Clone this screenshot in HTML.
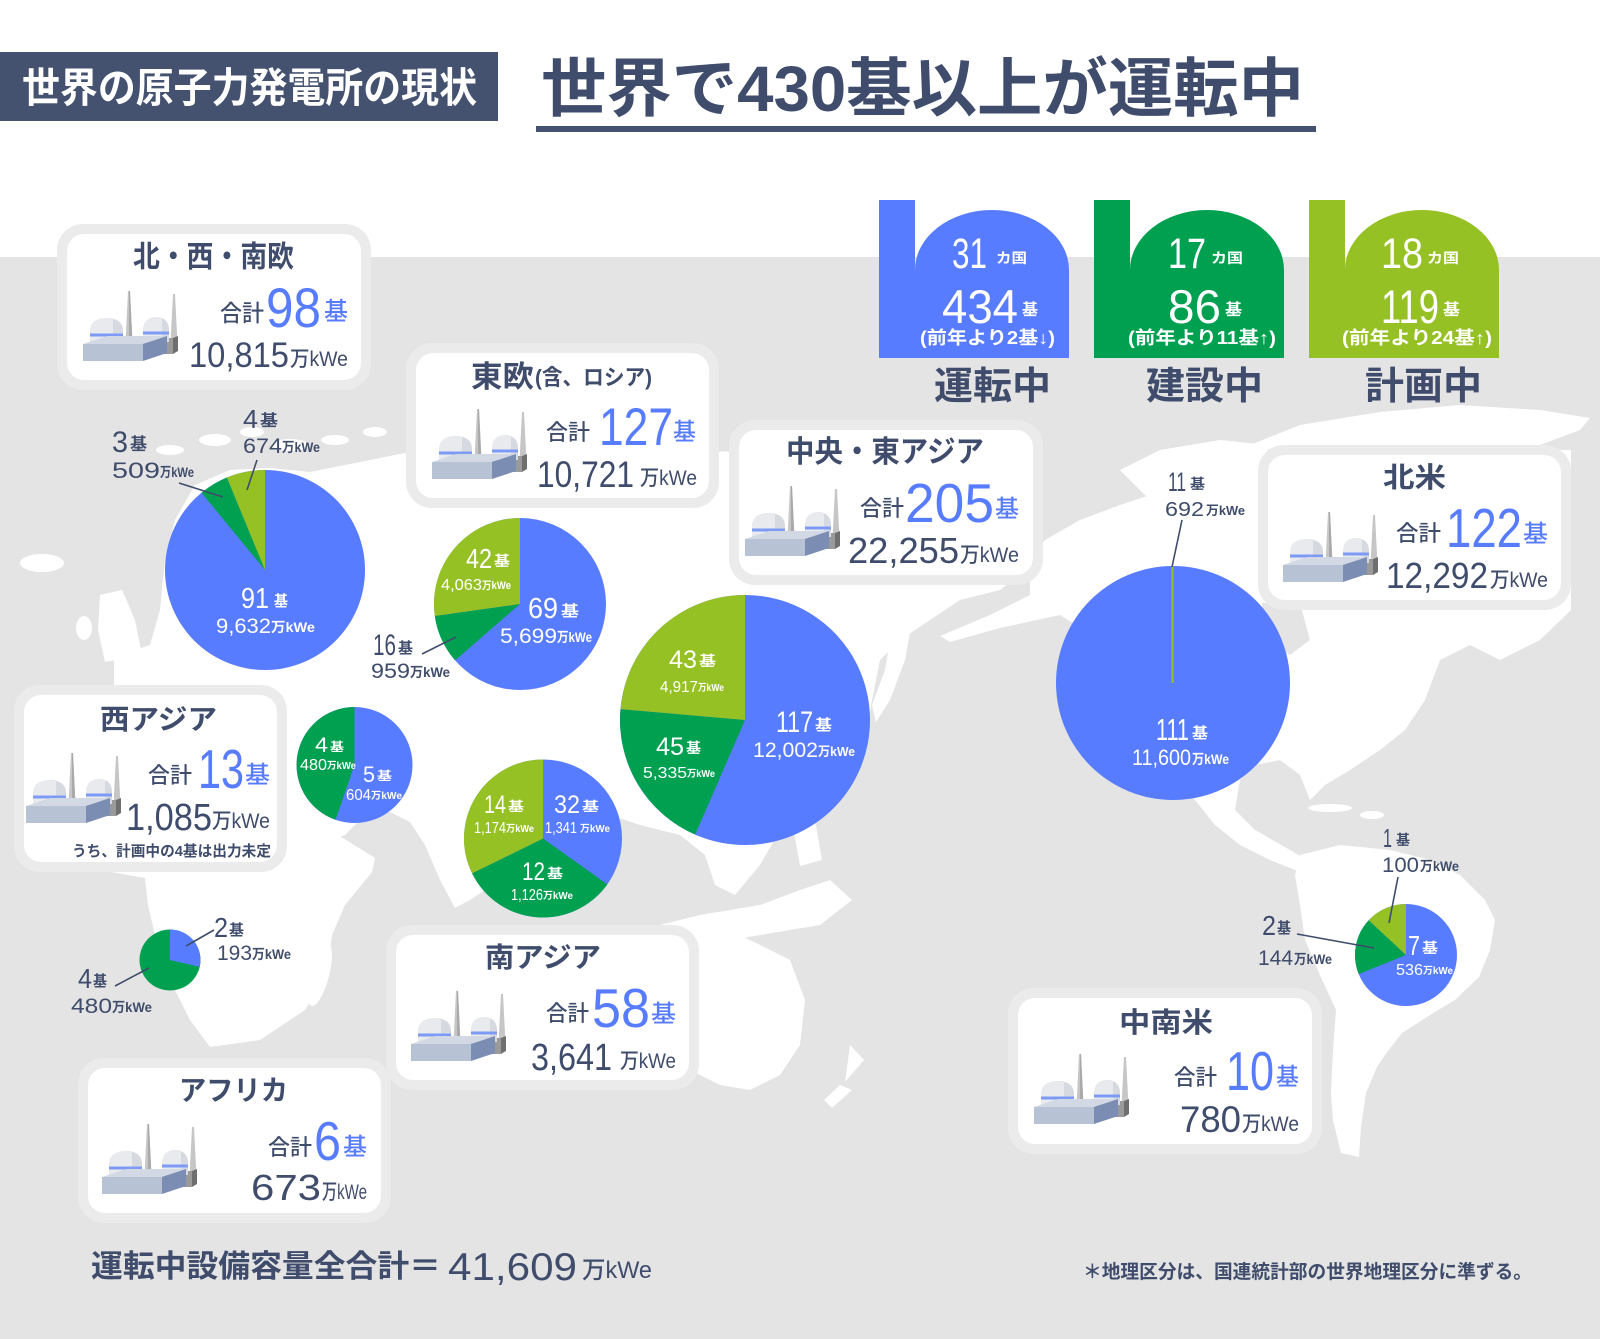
<!DOCTYPE html>
<html><head><meta charset="utf-8"><style>
html,body{margin:0;padding:0;background:#fff;}
svg{display:block;}
text{font-family:"Liberation Sans","Noto Sans CJK JP",sans-serif;}
.n{fill:#3f4c6b;font-weight:500;}
.nb{fill:#3f4c6b;font-weight:700;}
.b{fill:#587cff;font-weight:500;}
.w{fill:#fff;font-weight:500;}
.wb{fill:#fff;font-weight:700;}
</style></head><body>
<svg width="1600" height="1339" viewBox="0 0 1600 1339" xmlns="http://www.w3.org/2000/svg">
<defs>
<g id="icon">
  <polygon points="45,0 47,0 49.5,52 42.5,52" fill="#c6c6c6"/>
  <polygon points="46,0 47,0 49.5,52 46,52" fill="#a9a9a9"/>
  <polygon points="90,3 92,3 94.5,52 87.5,52" fill="#c6c6c6"/>
  <rect x="54" y="47" width="36" height="16" fill="#9a9a9a"/>
  <polygon points="90,47 95,45 95,60 90,63" fill="#6f6f6f"/>
  <path d="M7,53 L7,40 C7,31 14,27 23.5,27 C33,27 40,31 40,40 L40,53 Z" fill="#e8eaee"/>
  <path d="M23.5,27 C33,27 40,31 40,40 L40,53 L30,53 L30,28 Z" fill="#d6d9df"/>
  <rect x="7" y="42.5" width="33" height="3" fill="#7d9af5"/>
  <path d="M60,51 L60,39 C60,30 66,26 73,26 C80,26 86,30 86,39 L86,51 Z" fill="#e8eaee"/>
  <path d="M73,26 C80,26 86,30 86,39 L86,51 L79,51 L79,27 Z" fill="#d6d9df"/>
  <rect x="60" y="40.5" width="26" height="3" fill="#7d9af5"/>
  <polygon points="0,53 60,53 84,45 24,45" fill="#d3d9e4"/>
  <rect x="0" y="53" width="60" height="17" fill="#b7c3d5"/>
  <polygon points="60,53 84,45 84,62 60,70" fill="#7b8db3"/>
</g>
</defs>

<!-- header -->
<rect x="0" y="52" width="498" height="69" fill="#44526f"/>
<text x="22" y="102" font-size="41" textLength="455" lengthAdjust="spacingAndGlyphs" class="wb">世界の原子力発電所の現状</text>
<text x="541" y="111" font-size="64" textLength="763" lengthAdjust="spacingAndGlyphs" class="nb">世界で430基以上が運転中</text>
<rect x="536" y="126" width="780" height="6" fill="#44526f"/>

<!-- map background -->
<rect x="0" y="257" width="1600" height="1082" fill="#e4e4e4"/>

<!-- land -->
<g fill="#ffffff">
  <polygon points="114,690 114,657 150,645 160,610 165,560 175,520 195,485 230,470 270,468 310,472 360,462 410,452 500,447 600,450 700,452 800,450 900,450 980,452 1030,457 1040,520 1040,560 1000,590 960,600 930,620 900,640 880,660 872,700 862,760 830,790 800,800 780,830 760,865 735,895 715,885 705,855 680,835 640,825 610,815 580,830 540,860 500,880 470,900 455,908 440,880 425,845 410,822 390,812 365,815 345,835 325,842 305,828 290,800 280,760 275,720 265,700 200,700 160,695"/>
  <polygon points="160,700 265,700 290,730 310,790 330,830 375,858 372,872 345,905 332,935 327,975 305,1010 260,1040 210,1047 190,1020 175,990 165,960 155,935 148,905 145,878 100,870 40,860 25,800 40,740 90,705"/>
  <ellipse cx="320" cy="975" rx="9" ry="32" transform="rotate(15 320 975)"/>
  <ellipse cx="42" cy="563" rx="22" ry="9"/>
  <polygon points="100,595 122,590 135,620 142,655 105,662 98,630"/>
  <ellipse cx="84" cy="628" rx="8" ry="12"/>
  <ellipse cx="170" cy="450" rx="14" ry="5"/>
  <ellipse cx="215" cy="440" rx="16" ry="6"/>
  <ellipse cx="252" cy="432" rx="12" ry="5"/>
  <ellipse cx="290" cy="445" rx="18" ry="6"/>
  <ellipse cx="335" cy="440" rx="14" ry="5"/>
  <ellipse cx="375" cy="432" rx="12" ry="5"/>
  <polygon points="895,610 912,622 905,660 890,700 876,722 872,705 885,670"/>
  <polygon points="640,930 700,915 760,905 800,890 830,880 852,900 820,925 760,935 700,945 650,945"/>
  <polygon points="790,810 815,820 822,860 800,866"/>
  <polygon points="600,980 650,955 700,935 730,930 760,945 790,960 805,1000 800,1045 780,1075 750,1090 720,1085 690,1070 650,1075 610,1070 600,1040"/>
  <polygon points="850,1045 864,1060 845,1082"/>
  <polygon points="840,1085 852,1090 832,1108 824,1100"/>
  <!-- North America -->
  <polygon points="1045,540 1080,520 1120,505 1150,495 1180,470 1220,455 1268,450 1571,450 1571,610 1540,640 1500,660 1470,645 1440,660 1425,700 1405,730 1380,750 1350,770 1325,785 1310,800 1300,775 1280,760 1255,765 1240,780 1235,810 1255,830 1290,850 1310,862 1300,872 1270,860 1240,845 1215,825 1195,800 1180,780 1150,770 1120,700 1100,640 1060,615 1000,628 950,642 940,636 990,615 1030,595 1030,560"/>
  <polygon points="1250,445 1300,425 1380,412 1460,405 1540,410 1590,418 1580,430 1540,445 1500,455 1470,470 1440,460 1400,455 1300,455"/>
  <polygon points="1120,470 1160,450 1220,440 1268,445 1268,470 1200,490 1150,500"/>
  <polygon points="1300,855 1340,845 1390,850 1430,860 1460,875 1485,900 1495,920 1490,950 1479,977 1455,1000 1438,1010 1402,1033 1385,1055 1377,1067 1366,1093 1361,1127 1359,1157 1341,1153 1333,1120 1331,1093 1333,1050 1336,1010 1320,975 1305,940 1300,905 1295,875"/>
  <ellipse cx="1330" cy="808" rx="22" ry="4"/>
  <ellipse cx="1372" cy="815" rx="12" ry="4"/>
</g>
<polygon points="1262,603 1300,603 1310,640 1290,655 1265,640" fill="#e4e4e4"/>

<!-- stats shapes -->
<rect x="879" y="200" width="36" height="158" fill="#587cff"/>
<path d="M915,358 V270 A77,60 0 0 1 1069,270 V358 Z" fill="#587cff"/>
<rect x="1094" y="200" width="36" height="158" fill="#00a051"/>
<path d="M1130,358 V270 A77,60 0 0 1 1284,270 V358 Z" fill="#00a051"/>
<rect x="1309" y="200" width="36" height="158" fill="#96c125"/>
<path d="M1345,358 V270 A77,60 0 0 1 1499,270 V358 Z" fill="#96c125"/>

<text x="952" y="268" font-size="43" textLength="35" lengthAdjust="spacingAndGlyphs" class="w">31</text>
<text x="996" y="263" font-size="14" textLength="31" lengthAdjust="spacingAndGlyphs" class="wb">カ国</text>
<text x="942" y="323" font-size="47" textLength="76" lengthAdjust="spacingAndGlyphs" class="w">434</text>
<text x="1022" y="315" font-size="16" textLength="16" lengthAdjust="spacingAndGlyphs" class="wb">基</text>
<text x="920" y="344" font-size="18" textLength="135" lengthAdjust="spacingAndGlyphs" class="wb">(前年より2基↓)</text>

<text x="1168" y="268" font-size="43" textLength="38" lengthAdjust="spacingAndGlyphs" class="w">17</text>
<text x="1211" y="263" font-size="14" textLength="32" lengthAdjust="spacingAndGlyphs" class="wb">カ国</text>
<text x="1168" y="323" font-size="47" textLength="53" lengthAdjust="spacingAndGlyphs" class="w">86</text>
<text x="1225" y="315" font-size="16" textLength="17" lengthAdjust="spacingAndGlyphs" class="wb">基</text>
<text x="1128" y="344" font-size="18" textLength="148" lengthAdjust="spacingAndGlyphs" class="wb">(前年より11基↑)</text>

<text x="1381" y="268" font-size="43" textLength="42" lengthAdjust="spacingAndGlyphs" class="w">18</text>
<text x="1427" y="263" font-size="14" textLength="32" lengthAdjust="spacingAndGlyphs" class="wb">カ国</text>
<text x="1381" y="323" font-size="47" textLength="58" lengthAdjust="spacingAndGlyphs" class="w">119</text>
<text x="1443" y="315" font-size="16" textLength="17" lengthAdjust="spacingAndGlyphs" class="wb">基</text>
<text x="1342" y="344" font-size="18" textLength="150" lengthAdjust="spacingAndGlyphs" class="wb">(前年より24基↑)</text>

<text x="934" y="399" font-size="38" textLength="117" lengthAdjust="spacingAndGlyphs" class="nb">運転中</text>
<text x="1146" y="399" font-size="38" textLength="117" lengthAdjust="spacingAndGlyphs" class="nb">建設中</text>
<text x="1365" y="399" font-size="38" textLength="117" lengthAdjust="spacingAndGlyphs" class="nb">計画中</text>

<!-- boxes: halos + white -->
<g fill="#ebebeb">
  <rect x="57" y="224" width="314" height="166" rx="26"/>
  <rect x="406" y="343" width="313" height="165" rx="26"/>
  <rect x="729" y="420" width="314" height="165" rx="26"/>
  <rect x="1258" y="445" width="313" height="165" rx="26"/>
  <rect x="14" y="685" width="273" height="187" rx="26"/>
  <rect x="386" y="925" width="313" height="165" rx="26"/>
  <rect x="78" y="1058" width="313" height="165" rx="26"/>
  <rect x="1008" y="988" width="314" height="166" rx="26"/>
</g>
<g fill="#ffffff">
  <rect x="67" y="234" width="294" height="146" rx="17"/>
  <rect x="416" y="353" width="293" height="145" rx="17"/>
  <rect x="739" y="430" width="294" height="145" rx="17"/>
  <rect x="1268" y="455" width="293" height="145" rx="17"/>
  <rect x="24" y="695" width="253" height="167" rx="17"/>
  <rect x="396" y="935" width="293" height="145" rx="17"/>
  <rect x="88" y="1068" width="293" height="145" rx="17"/>
  <rect x="1018" y="998" width="294" height="146" rx="17"/>
</g>

<!-- icons -->
<use href="#icon" x="83" y="291"/>
<use href="#icon" x="432" y="409"/>
<use href="#icon" x="745" y="486"/>
<use href="#icon" x="1283" y="512"/>
<use href="#icon" x="26" y="753"/>
<use href="#icon" x="411" y="991"/>
<use href="#icon" x="102" y="1124"/>
<use href="#icon" x="1034" y="1054"/>

<!-- Box 1 -->
<text x="133" y="267" font-size="30" textLength="161" lengthAdjust="spacingAndGlyphs" class="nb">北・西・南欧</text>
<text x="220" y="321" font-size="23" textLength="44" lengthAdjust="spacingAndGlyphs" class="n">合計</text>
<text x="266" y="327" font-size="56" textLength="55" lengthAdjust="spacingAndGlyphs" class="b">98</text>
<text x="324" y="320" font-size="25" textLength="24" lengthAdjust="spacingAndGlyphs" class="b">基</text>
<text x="189" y="367" font-size="35" textLength="100" lengthAdjust="spacingAndGlyphs" class="n">10,815</text>
<text x="290" y="366" font-size="21" textLength="58" lengthAdjust="spacingAndGlyphs" class="n">万kWe</text>

<!-- Box 2 -->
<text x="471" y="387" font-size="30" textLength="63" lengthAdjust="spacingAndGlyphs" class="nb">東欧</text>
<text x="535" y="385" font-size="22" textLength="117" lengthAdjust="spacingAndGlyphs" class="nb">(含、ロシア)</text>
<text x="546" y="440" font-size="22" textLength="44" lengthAdjust="spacingAndGlyphs" class="n">合計</text>
<text x="599" y="445" font-size="53" textLength="74" lengthAdjust="spacingAndGlyphs" class="b">127</text>
<text x="673" y="440" font-size="24" textLength="23" lengthAdjust="spacingAndGlyphs" class="b">基</text>
<text x="537" y="487" font-size="37" textLength="97" lengthAdjust="spacingAndGlyphs" class="n">10,721</text>
<text x="640" y="485" font-size="21" textLength="57" lengthAdjust="spacingAndGlyphs" class="n">万kWe</text>

<!-- Box 3 -->
<text x="786" y="462" font-size="30" textLength="198" lengthAdjust="spacingAndGlyphs" class="nb">中央・東アジア</text>
<text x="860" y="516" font-size="22" textLength="44" lengthAdjust="spacingAndGlyphs" class="n">合計</text>
<text x="905" y="522" font-size="55" textLength="89" lengthAdjust="spacingAndGlyphs" class="b">205</text>
<text x="995" y="517" font-size="24" textLength="24" lengthAdjust="spacingAndGlyphs" class="b">基</text>
<text x="848" y="563" font-size="36" textLength="111" lengthAdjust="spacingAndGlyphs" class="n">22,255</text>
<text x="960" y="562" font-size="21" textLength="59" lengthAdjust="spacingAndGlyphs" class="n">万kWe</text>

<!-- Box 4 -->
<text x="1383" y="487" font-size="28" textLength="63" lengthAdjust="spacingAndGlyphs" class="nb">北米</text>
<text x="1396" y="541" font-size="22" textLength="45" lengthAdjust="spacingAndGlyphs" class="n">合計</text>
<text x="1446" y="547" font-size="55" textLength="76" lengthAdjust="spacingAndGlyphs" class="b">122</text>
<text x="1523" y="542" font-size="24" textLength="25" lengthAdjust="spacingAndGlyphs" class="b">基</text>
<text x="1386" y="588" font-size="36" textLength="102" lengthAdjust="spacingAndGlyphs" class="n">12,292</text>
<text x="1490" y="587" font-size="21" textLength="58" lengthAdjust="spacingAndGlyphs" class="n">万kWe</text>

<!-- Box 5 -->
<text x="100" y="729" font-size="28" textLength="117" lengthAdjust="spacingAndGlyphs" class="nb">西アジア</text>
<text x="148" y="783" font-size="22" textLength="44" lengthAdjust="spacingAndGlyphs" class="n">合計</text>
<text x="198" y="788" font-size="55" textLength="46" lengthAdjust="spacingAndGlyphs" class="b">13</text>
<text x="245" y="783" font-size="24" textLength="25" lengthAdjust="spacingAndGlyphs" class="b">基</text>
<text x="126" y="830" font-size="38" textLength="86" lengthAdjust="spacingAndGlyphs" class="n">1,085</text>
<text x="212" y="828" font-size="21" textLength="58" lengthAdjust="spacingAndGlyphs" class="n">万kWe</text>
<text x="72" y="856" font-size="15" textLength="199" lengthAdjust="spacingAndGlyphs" class="nb">うち、計画中の4基は出力未定</text>

<!-- Box 6 -->
<text x="485" y="967" font-size="28" textLength="116" lengthAdjust="spacingAndGlyphs" class="nb">南アジア</text>
<text x="546" y="1021" font-size="22" textLength="43" lengthAdjust="spacingAndGlyphs" class="n">合計</text>
<text x="592" y="1027" font-size="55" textLength="58" lengthAdjust="spacingAndGlyphs" class="b">58</text>
<text x="651" y="1022" font-size="24" textLength="25" lengthAdjust="spacingAndGlyphs" class="b">基</text>
<text x="531" y="1070" font-size="38" textLength="81" lengthAdjust="spacingAndGlyphs" class="n">3,641</text>
<text x="620" y="1068" font-size="21" textLength="56" lengthAdjust="spacingAndGlyphs" class="n">万kWe</text>

<!-- Box 7 -->
<text x="179" y="1100" font-size="28" textLength="109" lengthAdjust="spacingAndGlyphs" class="nb">アフリカ</text>
<text x="268" y="1155" font-size="22" textLength="44" lengthAdjust="spacingAndGlyphs" class="n">合計</text>
<text x="314" y="1160" font-size="55" textLength="27" lengthAdjust="spacingAndGlyphs" class="b">6</text>
<text x="343" y="1155" font-size="24" textLength="24" lengthAdjust="spacingAndGlyphs" class="b">基</text>
<text x="251" y="1200" font-size="36" textLength="70" lengthAdjust="spacingAndGlyphs" class="n">673</text>
<text x="322" y="1199" font-size="21" textLength="45" lengthAdjust="spacingAndGlyphs" class="n">万kWe</text>

<!-- Box 8 -->
<text x="1119" y="1032" font-size="28" textLength="94" lengthAdjust="spacingAndGlyphs" class="nb">中南米</text>
<text x="1174" y="1085" font-size="22" textLength="43" lengthAdjust="spacingAndGlyphs" class="n">合計</text>
<text x="1226" y="1090" font-size="55" textLength="48" lengthAdjust="spacingAndGlyphs" class="b">10</text>
<text x="1276" y="1085" font-size="24" textLength="23" lengthAdjust="spacingAndGlyphs" class="b">基</text>
<text x="1180" y="1132" font-size="37" textLength="61" lengthAdjust="spacingAndGlyphs" class="n">780</text>
<text x="1242" y="1131" font-size="21" textLength="57" lengthAdjust="spacingAndGlyphs" class="n">万kWe</text>

<!-- Pies -->
<circle cx="265" cy="570" r="100" fill="#587cff"/>
<path d="M265,570 L201.5,492.7 A100,100 0 0 1 226.9,477.5 Z" fill="#00a051"/>
<path d="M265,570 L226.9,477.5 A100,100 0 0 1 265,470 Z" fill="#96c125"/>
<circle cx="520" cy="604" r="86" fill="#587cff"/>
<path d="M520,604 L455.1,660.4 A86,86 0 0 1 434.8,616 Z" fill="#00a051"/>
<path d="M520,604 L434.8,616 A86,86 0 0 1 520,518 Z" fill="#96c125"/>
<circle cx="745" cy="720" r="125" fill="#587cff"/>
<path d="M745,720 L695.2,834.6 A125,125 0 0 1 620.5,709.1 Z" fill="#00a051"/>
<path d="M745,720 L620.5,709.1 A125,125 0 0 1 745,595 Z" fill="#96c125"/>
<circle cx="354.5" cy="765" r="58" fill="#587cff"/>
<path d="M354.5,765 L335.6,819.8 A58,58 0 0 1 354.5,707 Z" fill="#00a051"/>
<circle cx="543" cy="838.5" r="79" fill="#587cff"/>
<path d="M543,838.5 L607.3,884.4 A79,79 0 0 1 472.1,873.4 Z" fill="#00a051"/>
<path d="M543,838.5 L472.1,873.4 A79,79 0 0 1 543,759.5 Z" fill="#96c125"/>
<circle cx="170" cy="960" r="30.5" fill="#00a051"/>
<path d="M170,960 L170,929.5 A30.5,30.5 0 0 1 199.7,966.9 Z" fill="#587cff"/>
<circle cx="1173" cy="683" r="117" fill="#587cff"/>
<line x1="1172.5" y1="683" x2="1172.5" y2="566" stroke="#96c125" stroke-width="2"/>
<circle cx="1406" cy="955" r="51" fill="#587cff"/>
<path d="M1406,955 L1358.7,974.1 A51,51 0 0 1 1368.7,920.2 Z" fill="#00a051"/>
<path d="M1406,955 L1368.7,920.2 A51,51 0 0 1 1406,904 Z" fill="#96c125"/>

<!-- leader lines -->
<g stroke="#3f4c6b" stroke-width="1.6">
  <line x1="179" y1="483" x2="223" y2="497"/>
  <line x1="257" y1="460" x2="247" y2="490"/>
  <line x1="422" y1="654" x2="456" y2="637"/>
  <line x1="186" y1="946" x2="214" y2="930"/>
  <line x1="115" y1="986" x2="149" y2="968"/>
  <line x1="1182" y1="520" x2="1172" y2="567"/>
  <line x1="1297" y1="934" x2="1374" y2="948"/>
  <line x1="1398" y1="877" x2="1389" y2="923"/>
</g>

<!-- pie labels: Europe -->
<text x="241" y="608" font-size="29" textLength="28" lengthAdjust="spacingAndGlyphs" class="w">91</text>
<text x="274" y="606" font-size="15" textLength="14" lengthAdjust="spacingAndGlyphs" class="wb">基</text>
<text x="216" y="633" font-size="21" textLength="55" lengthAdjust="spacingAndGlyphs" class="w">9,632</text>
<text x="271" y="632" font-size="14" textLength="44" lengthAdjust="spacingAndGlyphs" class="wb">万kWe</text>
<text x="112" y="452" font-size="30" textLength="16" lengthAdjust="spacingAndGlyphs" class="n">3</text>
<text x="130" y="450" font-size="17" textLength="17" lengthAdjust="spacingAndGlyphs" class="nb">基</text>
<text x="112" y="478" font-size="22" textLength="48" lengthAdjust="spacingAndGlyphs" class="n">509</text>
<text x="160" y="477" font-size="14" textLength="34" lengthAdjust="spacingAndGlyphs" class="nb">万kWe</text>
<text x="243" y="428" font-size="26" textLength="15" lengthAdjust="spacingAndGlyphs" class="n">4</text>
<text x="260" y="426" font-size="16" textLength="18" lengthAdjust="spacingAndGlyphs" class="nb">基</text>
<text x="243" y="453" font-size="21" textLength="39" lengthAdjust="spacingAndGlyphs" class="n">674</text>
<text x="282" y="452" font-size="14" textLength="38" lengthAdjust="spacingAndGlyphs" class="nb">万kWe</text>

<!-- East Europe -->
<text x="466" y="568" font-size="28" textLength="26" lengthAdjust="spacingAndGlyphs" class="w">42</text>
<text x="494" y="566" font-size="14" textLength="16" lengthAdjust="spacingAndGlyphs" class="wb">基</text>
<text x="441" y="590" font-size="16" textLength="41" lengthAdjust="spacingAndGlyphs" class="w">4,063</text>
<text x="482" y="589" font-size="11" textLength="29" lengthAdjust="spacingAndGlyphs" class="wb">万kWe</text>
<text x="528" y="618" font-size="29" textLength="30" lengthAdjust="spacingAndGlyphs" class="w">69</text>
<text x="561" y="616" font-size="15" textLength="18" lengthAdjust="spacingAndGlyphs" class="wb">基</text>
<text x="500" y="643" font-size="21" textLength="57" lengthAdjust="spacingAndGlyphs" class="w">5,699</text>
<text x="557" y="642" font-size="14" textLength="35" lengthAdjust="spacingAndGlyphs" class="wb">万kWe</text>
<text x="373" y="655" font-size="30" textLength="23" lengthAdjust="spacingAndGlyphs" class="n">16</text>
<text x="398" y="653" font-size="15" textLength="15" lengthAdjust="spacingAndGlyphs" class="nb">基</text>
<text x="371" y="678" font-size="21" textLength="39" lengthAdjust="spacingAndGlyphs" class="n">959</text>
<text x="410" y="677" font-size="14" textLength="40" lengthAdjust="spacingAndGlyphs" class="nb">万kWe</text>

<!-- Central/East Asia -->
<text x="669" y="668" font-size="25" textLength="28" lengthAdjust="spacingAndGlyphs" class="w">43</text>
<text x="699" y="666" font-size="14" textLength="17" lengthAdjust="spacingAndGlyphs" class="wb">基</text>
<text x="660" y="692" font-size="16" textLength="38" lengthAdjust="spacingAndGlyphs" class="w">4,917</text>
<text x="698" y="691" font-size="10" textLength="26" lengthAdjust="spacingAndGlyphs" class="wb">万kWe</text>
<text x="776" y="732" font-size="30" textLength="37" lengthAdjust="spacingAndGlyphs" class="w">117</text>
<text x="815" y="730" font-size="15" textLength="17" lengthAdjust="spacingAndGlyphs" class="wb">基</text>
<text x="753" y="757" font-size="21" textLength="65" lengthAdjust="spacingAndGlyphs" class="w">12,002</text>
<text x="818" y="756" font-size="13" textLength="37" lengthAdjust="spacingAndGlyphs" class="wb">万kWe</text>
<text x="656" y="755" font-size="25" textLength="28" lengthAdjust="spacingAndGlyphs" class="w">45</text>
<text x="686" y="753" font-size="14" textLength="15" lengthAdjust="spacingAndGlyphs" class="wb">基</text>
<text x="643" y="778" font-size="16" textLength="44" lengthAdjust="spacingAndGlyphs" class="w">5,335</text>
<text x="687" y="777" font-size="10" textLength="28" lengthAdjust="spacingAndGlyphs" class="wb">万kWe</text>

<!-- West Asia -->
<text x="315" y="752" font-size="21" textLength="13" lengthAdjust="spacingAndGlyphs" class="w">4</text>
<text x="330" y="751" font-size="12" textLength="14" lengthAdjust="spacingAndGlyphs" class="wb">基</text>
<text x="300" y="770" font-size="16" textLength="27" lengthAdjust="spacingAndGlyphs" class="w">480</text>
<text x="327" y="769" font-size="10" textLength="29" lengthAdjust="spacingAndGlyphs" class="wb">万kWe</text>
<text x="363" y="782" font-size="22" textLength="12" lengthAdjust="spacingAndGlyphs" class="w">5</text>
<text x="377" y="780" font-size="12" textLength="15" lengthAdjust="spacingAndGlyphs" class="wb">基</text>
<text x="346" y="800" font-size="16" textLength="25" lengthAdjust="spacingAndGlyphs" class="w">604</text>
<text x="371" y="799" font-size="10" textLength="31" lengthAdjust="spacingAndGlyphs" class="wb">万kWe</text>

<!-- South Asia -->
<text x="484" y="813" font-size="25" textLength="22" lengthAdjust="spacingAndGlyphs" class="w">14</text>
<text x="508" y="811" font-size="13" textLength="16" lengthAdjust="spacingAndGlyphs" class="wb">基</text>
<text x="474" y="833" font-size="16" textLength="32" lengthAdjust="spacingAndGlyphs" class="w">1,174</text>
<text x="506" y="832" font-size="10" textLength="28" lengthAdjust="spacingAndGlyphs" class="wb">万kWe</text>
<text x="554" y="813" font-size="25" textLength="26" lengthAdjust="spacingAndGlyphs" class="w">32</text>
<text x="582" y="811" font-size="13" textLength="17" lengthAdjust="spacingAndGlyphs" class="wb">基</text>
<text x="545" y="833" font-size="16" textLength="32" lengthAdjust="spacingAndGlyphs" class="w">1,341</text>
<text x="580" y="832" font-size="10" textLength="30" lengthAdjust="spacingAndGlyphs" class="wb">万kWe</text>
<text x="522" y="880" font-size="25" textLength="23" lengthAdjust="spacingAndGlyphs" class="w">12</text>
<text x="547" y="878" font-size="13" textLength="16" lengthAdjust="spacingAndGlyphs" class="wb">基</text>
<text x="511" y="900" font-size="16" textLength="32" lengthAdjust="spacingAndGlyphs" class="w">1,126</text>
<text x="543" y="899" font-size="10" textLength="30" lengthAdjust="spacingAndGlyphs" class="wb">万kWe</text>

<!-- Africa -->
<text x="214" y="937" font-size="28" textLength="14" lengthAdjust="spacingAndGlyphs" class="n">2</text>
<text x="229" y="935" font-size="15" textLength="15" lengthAdjust="spacingAndGlyphs" class="nb">基</text>
<text x="217" y="960" font-size="21" textLength="35" lengthAdjust="spacingAndGlyphs" class="n">193</text>
<text x="252" y="959" font-size="14" textLength="39" lengthAdjust="spacingAndGlyphs" class="nb">万kWe</text>
<text x="78" y="988" font-size="28" textLength="14" lengthAdjust="spacingAndGlyphs" class="n">4</text>
<text x="93" y="986" font-size="15" textLength="14" lengthAdjust="spacingAndGlyphs" class="nb">基</text>
<text x="71" y="1013" font-size="21" textLength="41" lengthAdjust="spacingAndGlyphs" class="n">480</text>
<text x="112" y="1012" font-size="14" textLength="40" lengthAdjust="spacingAndGlyphs" class="nb">万kWe</text>

<!-- North America -->
<text x="1156" y="740" font-size="31" textLength="33" lengthAdjust="spacingAndGlyphs" class="w">111</text>
<text x="1192" y="738" font-size="15" textLength="16" lengthAdjust="spacingAndGlyphs" class="wb">基</text>
<text x="1132" y="765" font-size="22" textLength="59" lengthAdjust="spacingAndGlyphs" class="w">11,600</text>
<text x="1192" y="764" font-size="14" textLength="37" lengthAdjust="spacingAndGlyphs" class="wb">万kWe</text>
<text x="1168" y="491" font-size="27" textLength="18" lengthAdjust="spacingAndGlyphs" class="n">11</text>
<text x="1190" y="489" font-size="14" textLength="15" lengthAdjust="spacingAndGlyphs" class="nb">基</text>
<text x="1165" y="516" font-size="20" textLength="39" lengthAdjust="spacingAndGlyphs" class="n">692</text>
<text x="1206" y="515" font-size="13" textLength="39" lengthAdjust="spacingAndGlyphs" class="nb">万kWe</text>

<!-- South America -->
<text x="1408" y="955" font-size="28" textLength="12" lengthAdjust="spacingAndGlyphs" class="w">7</text>
<text x="1422" y="953" font-size="14" textLength="16" lengthAdjust="spacingAndGlyphs" class="wb">基</text>
<text x="1396" y="975" font-size="16" textLength="27" lengthAdjust="spacingAndGlyphs" class="w">536</text>
<text x="1423" y="974" font-size="10" textLength="30" lengthAdjust="spacingAndGlyphs" class="wb">万kWe</text>
<text x="1262" y="935" font-size="28" textLength="14" lengthAdjust="spacingAndGlyphs" class="n">2</text>
<text x="1277" y="933" font-size="15" textLength="14" lengthAdjust="spacingAndGlyphs" class="nb">基</text>
<text x="1258" y="965" font-size="21" textLength="35" lengthAdjust="spacingAndGlyphs" class="n">144</text>
<text x="1294" y="964" font-size="14" textLength="38" lengthAdjust="spacingAndGlyphs" class="nb">万kWe</text>
<text x="1383" y="847" font-size="26" textLength="9" lengthAdjust="spacingAndGlyphs" class="n">1</text>
<text x="1396" y="845" font-size="14" textLength="14" lengthAdjust="spacingAndGlyphs" class="nb">基</text>
<text x="1382" y="872" font-size="21" textLength="37" lengthAdjust="spacingAndGlyphs" class="n">100</text>
<text x="1420" y="871" font-size="14" textLength="39" lengthAdjust="spacingAndGlyphs" class="nb">万kWe</text>

<!-- footer -->
<text x="91" y="1277" font-size="31" textLength="350" lengthAdjust="spacingAndGlyphs" class="nb">運転中設備容量全合計＝</text>
<text x="448" y="1280" font-size="39" textLength="129" lengthAdjust="spacingAndGlyphs" class="n">41,609</text>
<text x="582" y="1278" font-size="24" textLength="70" lengthAdjust="spacingAndGlyphs" class="n">万kWe</text>
<text x="1083" y="1278" font-size="19" textLength="449" lengthAdjust="spacingAndGlyphs" class="nb">＊地理区分は、国連統計部の世界地理区分に準ずる。</text>
</svg>
</body></html>
